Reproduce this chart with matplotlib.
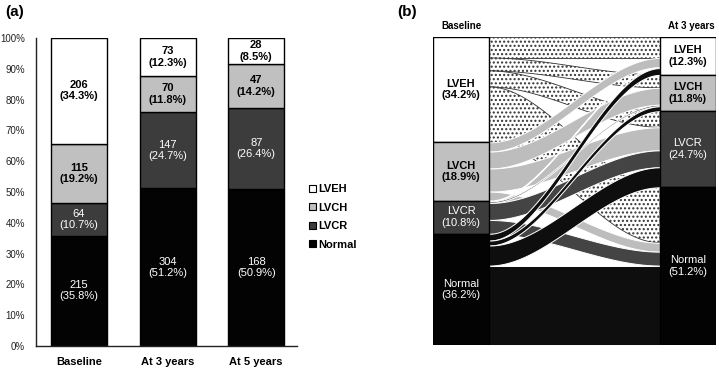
import numpy as np
import matplotlib.pyplot as plt
from matplotlib.patches import Patch, Rectangle

plt.rcParams['font.family'] = ['Liberation Sans', 'DejaVu Sans']

# ---- panel (a) data ----
timepoints = ["Baseline", "At 3 years", "At 5 years"]
n_normal = [215, 304, 168]
n_lvcr = [64, 147, 87]
n_lvch = [115, 70, 47]
n_lveh = [206, 73, 28]
pct_normal = [35.8, 51.2, 50.9]
pct_lvcr = [10.7, 24.7, 26.4]
pct_lvch = [19.2, 11.8, 14.2]
pct_lveh = [34.3, 12.3, 8.5]

# ---- panel (b) data ----
sk_groups = ["LVEH", "LVCH", "LVCR", "Normal"]
sk_base = [34.2, 18.9, 10.8, 36.2]
sk_3y = [12.3, 11.8, 24.7, 51.2]
# % of cohort moving from baseline group (row) to group at 3 years (col)
sk_flows = [[6.8, 4.2, 5.2, 18.0],
            [3.0, 5.5, 7.5, 2.9],
            [0.3, 0.5, 5.5, 4.5],
            [2.2, 1.6, 6.5, 25.8]]

col = {"LVEH": "#ffffff", "LVCH": "#c0c0c0", "LVCR": "#3c3c3c", "Normal": "#030303"}
flow_col = {"LVEH": "#ffffff", "LVCH": "#bdbdbd", "LVCR": "#444444", "Normal": "#0e0e0e"}

fig = plt.figure(figsize=(7.19, 3.70), dpi=100)

# ================= (a) stacked bars =================
ax1 = fig.add_axes([36/719, 24/370, 261/719, 308/370])
x = np.arange(len(timepoints))
w = 0.63
stack = [("Normal", n_normal, pct_normal), ("LVCR", n_lvcr, pct_lvcr),
         ("LVCH", n_lvch, pct_lvch), ("LVEH", n_lveh, pct_lveh)]
bottom = np.zeros(len(x))
for name, n, p in stack:
    ax1.bar(x, p, w, bottom=bottom, color=col[name], edgecolor='black', linewidth=1)
    dark = name in ("Normal", "LVCR")
    for i in range(len(x)):
        ax1.text(x[i], bottom[i] + p[i] / 2, "%d\n(%.1f%%)" % (n[i], p[i]),
                 ha='center', va='center', fontsize=8,
                 color='white' if dark else 'black',
                 fontweight='normal' if dark else 'bold', linespacing=1.15)
    bottom += np.array(p)

ax1.set_xlim(-0.485, 2.46)
ax1.set_ylim(0, 100)
ax1.set_yticks(np.arange(0, 101, 10))
ax1.set_yticklabels(["%d%%" % v for v in range(0, 101, 10)])
ax1.set_xticks(x)
ax1.set_xticklabels(timepoints, fontweight='bold', fontsize=8)
ax1.tick_params(axis='y', length=0, labelsize=7, pad=8, labelcolor='#222222')
ax1.tick_params(axis='x', length=0, pad=8)
for s in ("top", "right"):
    ax1.spines[s].set_visible(False)
for s in ("left", "bottom"):
    ax1.spines[s].set_linewidth(1)
    ax1.spines[s].set_color('#222222')

handles = [Patch(facecolor=col[g], edgecolor='black', linewidth=0.8) for g in sk_groups]
fig.legend(handles, sk_groups, loc='center left', bbox_to_anchor=(299/719, 1 - 217/370),
           frameon=False, prop={'weight': 'bold', 'size': 8}, handlelength=0.6,
           handleheight=0.6, handletextpad=0.25, labelspacing=0.75)

# ================= (b) sankey =================
ax2 = fig.add_axes([433/719, 25/370, 283/719, 308/370])
ax2.set_xlim(0, 1)
ax2.set_ylim(0, 100)
ax2.axis('off')
bw = 0.198
x0, x1 = bw, 1 - bw
xs = np.linspace(x0, x1, 200)
t = (xs - x0) / (x1 - x0)
shape = t * t * (3 - 2 * t)

base_top = 100 - np.concatenate([[0], np.cumsum(sk_base)[:-1]])
end_top = 100 - np.concatenate([[0], np.cumsum(sk_3y)[:-1]])
flows = np.array(sk_flows)

for i, src in enumerate(sk_groups):
    for j, dst in enumerate(sk_groups):
        f = flows[i, j]
        lt = base_top[i] - flows[i, :j].sum()
        rt = end_top[j] - flows[:i, j].sum()
        upper = lt + (rt - lt) * shape
        if src == "LVEH":
            ax2.fill_between(xs, upper - f, upper, facecolor='white', edgecolor='#333333',
                             hatch='....', linewidth=0.6)
        else:
            ax2.fill_between(xs, upper - f, upper, facecolor=flow_col[src],
                             edgecolor='white', linewidth=0.7)

for k, g in enumerate(sk_groups):
    dark = g in ("Normal", "LVCR")
    tc = 'white' if dark else 'black'
    fw = 'normal' if dark else 'bold'
    ax2.add_patch(Rectangle((0, base_top[k] - sk_base[k]), bw, sk_base[k],
                            facecolor=col[g], edgecolor='black', linewidth=1, zorder=3))
    ax2.text(bw / 2, base_top[k] - sk_base[k] / 2, "%s\n(%.1f%%)" % (g, sk_base[k]),
             ha='center', va='center', fontsize=8, color=tc, fontweight=fw, zorder=4)
    ax2.add_patch(Rectangle((1 - bw, end_top[k] - sk_3y[k]), bw, sk_3y[k],
                            facecolor=col[g], edgecolor='black', linewidth=1, zorder=3))
    ax2.text(1 - bw / 2, end_top[k] - sk_3y[k] / 2, "%s\n(%.1f%%)" % (g, sk_3y[k]),
             ha='center', va='center', fontsize=8, color=tc, fontweight=fw, zorder=4)

ax2.text(bw / 2, 103.6, "Baseline", ha='center', va='center', fontsize=7, fontweight='bold')
ax2.text(1 - bw / 2 + 0.01, 103.6, "At 3 years", ha='center', va='center', fontsize=7,
         fontweight='bold')

fig.text(5/719, 1 - 12/370, "(a)", fontsize=11, fontweight='bold', va='center')
fig.text(397/719, 1 - 12/370, "(b)", fontsize=11, fontweight='bold', va='center')

fig.savefig("out.png", dpi=100)
